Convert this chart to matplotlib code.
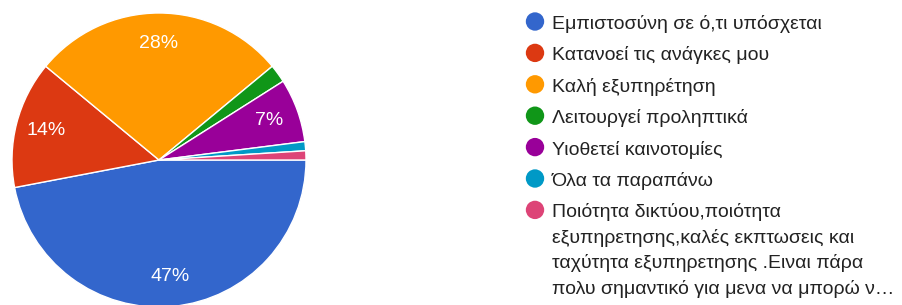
import textwrap
import matplotlib
matplotlib.use("Agg")
import matplotlib.pyplot as plt

plt.rcParams['font.family'] = ['Liberation Sans', 'DejaVu Sans']

categories = [
    "Εμπιστοσύνη σε ό,τι υπόσχεται",
    "Κατανοεί τις ανάγκες μου",
    "Καλή εξυπηρέτηση",
    "Λειτουργεί προληπτικά",
    "Υιοθετεί καινοτομίες",
    "Όλα τα παραπάνω",
    "Ποιότητα δικτύου,ποιότητα εξυπηρετησης,καλές εκπτωσεις και ταχύτητα εξυπηρετησης .Ειναι πάρα πολυ σημαντικό για μενα να μπορώ ν…",
]
values = [47, 14, 28, 2, 7, 1, 1]
colors = ["#3366cc", "#dc3912", "#ff9900", "#109618", "#990099", "#0099c6", "#dd4477"]

W, H = 902, 305
fig = plt.figure(figsize=(W / 100, H / 100), dpi=100)

# Pie
ax = fig.add_axes([12 / W, -2 / H, 294 / W, 294 / H])


def fmt(p):
    return f"{p:.0f}%" if p >= 5 else ""


ax.pie(
    values, colors=colors, startangle=0, counterclock=False,
    autopct=fmt, pctdistance=0.795, radius=1.0,
    wedgeprops=dict(edgecolor="white", linewidth=1.0),
    textprops=dict(color="white", fontsize=14),
)
ax.set_xlim(-1, 1)
ax.set_ylim(-1, 1)
ax.set_aspect("equal")
ax.axis("off")

# Legend drawn in a pixel-coordinate overlay axes
lax = fig.add_axes([0, 0, 1, 1])
lax.set_xlim(0, W)
lax.set_ylim(H, 0)
lax.axis("off")

row_pitch = 31.4
line_pitch = 25.5
y0 = 21.5
for i, (cat, col) in enumerate(zip(categories, colors)):
    yc = y0 + i * row_pitch
    lax.scatter([535], [yc], s=175, color=col, edgecolors="none")
    lines = textwrap.wrap(cat, width=35)
    for k, line in enumerate(lines):
        lax.text(552, yc + 7.5 + k * line_pitch, line, fontsize=14,
                 color="#222222", va="baseline", ha="left")

fig.savefig("out.png", dpi=100)
